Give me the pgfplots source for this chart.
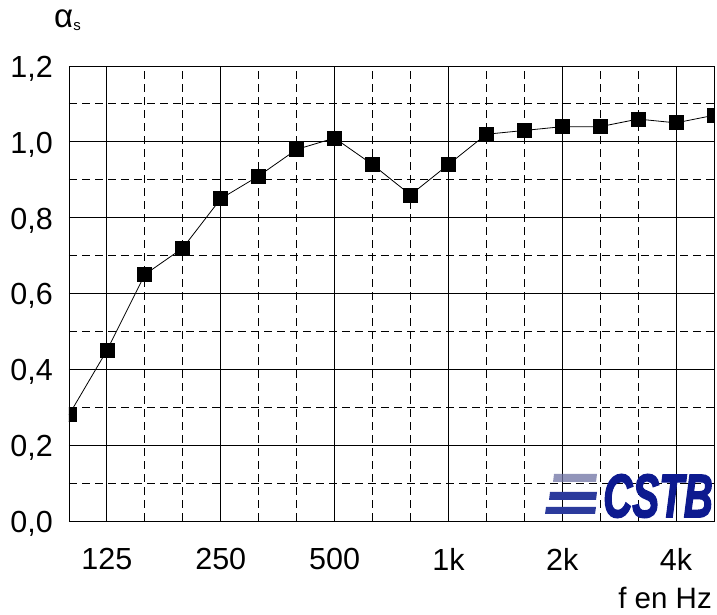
\documentclass[border=0pt]{standalone}
\usepackage{pgfplots}
\pgfplotsset{compat=1.18}
\usepackage{pgfplotstable}
\usepackage{fontspec}
\setmainfont{Liberation Sans}
\newfontfamily\logofont{Liberation Sans Bold Italic}[FakeBold=3]
\definecolor{cstbblue}{HTML}{0D1A8F}
\definecolor{cstbbar}{HTML}{2B3A9C}
\definecolor{cstbtop}{HTML}{6E72A3}

% third-octave bands 100 Hz ... 5 kHz, plotted at index 0..17
\pgfplotstableread{
idx f alpha
0 100 0.28
1 125 0.45
2 160 0.65
3 200 0.72
4 250 0.85
5 315 0.91
6 400 0.98
7 500 1.01
8 630 0.94
9 800 0.86
10 1000 0.94
11 1250 1.02
12 1600 1.03
13 2000 1.04
14 2500 1.04
15 3150 1.06
16 4000 1.05
17 5000 1.07
}\absdata

\begin{document}
\begin{tikzpicture}
\useasboundingbox (0pt,0pt) rectangle (717pt,615pt);
\begin{axis}[
    at={(69pt,94pt)}, anchor=south west,
    scale only axis, width=645pt, height=455pt,
    xmin=0, xmax=17, ymin=0, ymax=1.2,
    xtick={1,4,7,10,13,16},
    xticklabels={125,250,500,1k,2k,4k},
    minor xtick={2,3,5,6,8,9,11,12,14,15},
    ytick={0,0.2,0.4,0.6,0.8,1.0,1.2},
    minor ytick={0.1,0.3,0.5,0.7,0.9,1.1},
    grid=both,
    major tick length=0, minor tick length=0,
    major grid style={black, line width=0.9pt},
    minor grid style={black, line width=0.9pt, dash pattern=on 8pt off 5pt},
    axis line style={black, line width=0.9pt},
    tick label style={font=\fontsize{30.5}{36}\selectfont, inner sep=0pt},
    xticklabel style={anchor=north, yshift=-27pt},
    yticklabel style={anchor=base east, xshift=-16pt, yshift=-11.5pt},
    /pgf/number format/assume math mode=true,
    /pgf/number format/use comma,
    /pgf/number format/fixed,
    /pgf/number format/fixed zerofill,
    /pgf/number format/precision=1,
    clip marker paths=true,
]
\addplot[black, line width=0.8pt, mark=square*, mark size=7pt,
    mark options={fill=black, draw=black}]
    table[x=idx, y=alpha] {\absdata};
\end{axis}
% CSTB logo
\fill[cstbtop, opacity=0.75] (553pt,133pt) -- (596pt,133pt) -- (597pt,141pt) -- (554pt,141pt) -- cycle;
\fill[cstbbar] (549pt,115pt) -- (596pt,115pt) -- (597pt,123pt) -- (550pt,123pt) -- cycle;
\fill[cstbbar] (545pt,101pt) -- (595pt,101pt) -- (596pt,108pt) -- (546pt,108pt) -- cycle;
\node[anchor=base east, inner sep=0pt, xscale=0.66, text=cstbblue]
    at (713pt,98pt) {\logofont\fontsize{61}{70}\selectfont CSTB};
% axis titles
\node[anchor=base west, inner sep=0pt] at (54pt,587pt)
    {\fontsize{33}{36}\selectfont α\raisebox{-3pt}{\fontsize{15}{16}\selectfont s}};
\node[anchor=base east, inner sep=0pt] at (712pt,6pt)
    {\fontsize{29.5}{34}\selectfont f en Hz};
\end{tikzpicture}
\end{document}
